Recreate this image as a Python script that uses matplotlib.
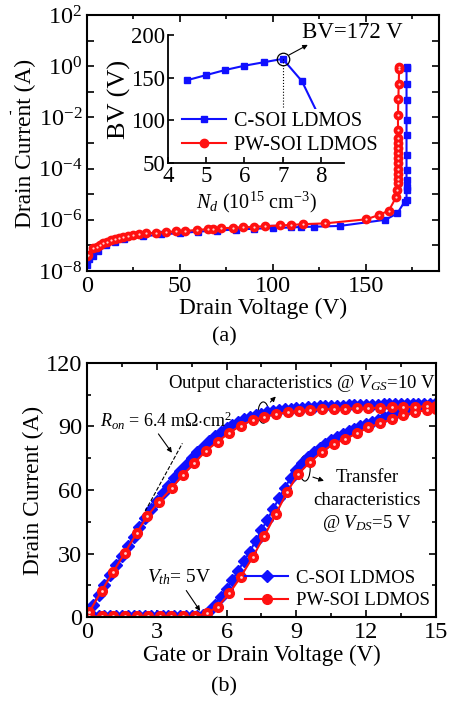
import numpy as np
import matplotlib
matplotlib.use("Agg")
import matplotlib.pyplot as plt
from matplotlib.patches import Ellipse
from matplotlib.ticker import FixedLocator, MultipleLocator, FuncFormatter

# ==========================================
# FONTS
# ==========================================

plt.rcParams["font.family"] = ["Liberation Serif", "DejaVu Serif"]
plt.rcParams["mathtext.fontset"] = "custom"
plt.rcParams["mathtext.rm"] = "Liberation Serif"
plt.rcParams["mathtext.it"] = "Liberation Serif:italic"
plt.rcParams["xtick.direction"] = "in"
plt.rcParams["ytick.direction"] = "in"

# ==========================================
# DATA (a) BREAKDOWN, log10 of current
# ==========================================

c_vd = [0, 1, 3, 6, 10, 15, 20, 30, 40, 50, 60, 70, 80, 90, 100, 110, 115, 122,
        136, 160.6, 167, 171, 172, 172, 172, 172, 172, 172, 172, 172, 172, 172, 172, 172]
c_logid = [-7.75, -7.55, -7.4, -7.2, -7.0, -6.85, -6.75, -6.65, -6.57, -6.52, -6.46,
           -6.42, -6.38, -6.35, -6.32, -6.3, -6.28, -6.27, -6.24, -6.0, -5.75, -5.29,
           -5.23, -4.84, -4.7, -4.45, -4.05, -3.47, -2.69, -2.1, -1.32, -0.71, -0.08, -0.05]

pw_vd = [0, 0.7, 3.4, 5.2, 7, 8.8, 10.6, 12.7, 15, 17.3, 19.5, 22.2, 24.9, 28, 32,
         37, 42.5, 48, 52.7, 59, 65, 68, 72, 78.7, 84, 90, 96, 104, 110, 116.3, 128,
         150.4, 157.2, 162.5, 166.5, 167, 167.4, 167.4, 167.4, 167.4, 167.4, 167.4,
         167.4, 167.4, 167.4, 167.4, 167.4, 167.4, 167.6, 167.8, 168, 168]
pw_logid = [-7.4, -7.37, -7.11, -7.05, -6.98, -6.92, -6.86, -6.79, -6.75, -6.7, -6.66,
            -6.62, -6.58, -6.55, -6.53, -6.5, -6.48, -6.45, -6.43, -6.4, -6.36, -6.35,
            -6.33, -6.31, -6.29, -6.27, -6.25, -6.22, -6.2, -6.17, -6.14, -5.98, -5.81,
            -5.64, -5.1, -4.84, -4.55, -4.4, -4.2, -4.0, -3.8, -3.6, -3.4, -3.2, -3.0,
            -2.8, -2.5, -1.9, -1.3, -0.7, -0.1, -0.05]

# inset: BV vs drift doping
nd = [4.5, 5.0, 5.5, 6.0, 6.5, 7.0, 7.5, 8.0]
bv = [147, 153, 159, 164, 168, 172, 146, 100]

# ==========================================
# DATA (b) OUTPUT / TRANSFER
# ==========================================

c_v = np.arange(0, 15.01, 0.25)
c_out = [1, 6, 10.5, 15, 20, 24.5, 29, 33.5, 38, 42.5, 47, 51, 55, 58.5, 62, 65.5,
         69, 72, 75, 78, 80.5, 83, 85.3, 87.3, 89.2, 90.8, 92.2, 93.4, 94.4, 95.3,
         96, 96.7, 97.2, 97.6, 98, 98.3, 98.6, 98.8, 99, 99.2, 99.4, 99.5, 99.6, 99.7,
         99.8, 99.9, 100, 100.05, 100.1, 100.2, 100.25, 100.3, 100.35, 100.4, 100.45,
         100.5, 100.55, 100.6, 100.65, 100.7, 100.8]
c_tr = [0.4, 0.4, 0.4, 0.4, 0.4, 0.4, 0.4, 0.4, 0.4, 0.4, 0.4, 0.4, 0.4, 0.4, 0.4,
        0.4, 0.4, 0.4, 0.4, 0.5, 1, 3, 6, 9.5, 13.5, 17.5, 22, 26.5, 31, 36, 41, 46,
        51, 56, 61, 65.5, 69.5, 72.5, 75.5, 78, 80, 81.8, 83.5, 85, 86.3, 87.6, 88.8,
        90, 91.1, 92.2, 93.2, 94.2, 95.1, 96, 96.8, 97.6, 98.3, 99, 99.6, 100.1, 100.5]

pw_v_out = [0.1, 0.63, 1.13, 1.63, 2.13, 2.6, 3.1, 3.64, 4.11, 4.61, 5.11, 5.62, 6.12,
            6.6, 7.12, 7.63, 8.12, 8.62, 9.12, 9.6, 10.1, 10.6, 11.1, 11.6, 12.1, 12.6,
            13.1, 13.6, 14.1, 14.6, 15.0]
pw_out = [2.6, 12.5, 21.5, 30.4, 39.6, 47.9, 54.5, 60.8, 67, 72.6, 78.4, 82.8, 87,
          90.3, 93, 94.5, 95.8, 96.6, 97.2, 97.7, 98, 98.2, 98.3, 98.5, 98.6, 98.7,
          98.9, 99.0, 99.2, 99.4, 99.5]
pw_v_tr = [0.1, 0.63, 1.13, 1.63, 2.13, 2.63, 3.13, 3.63, 4.13, 4.63, 5.14, 5.62,
           6.12, 6.6, 7.12, 7.62, 8.12, 8.6, 9.08, 9.6, 10.1, 10.6, 11.1, 11.6, 12.1,
           12.6, 13.1, 13.6, 14.1, 14.6, 15.0]
pw_tr = [0.5, 0.4, 0.4, 0.4, 0.4, 0.4, 0.4, 0.4, 0.4, 0.4, 1.9, 5, 11.3, 18.9, 28.3,
         38.3, 48.7, 59, 67.5, 73.3, 78, 81.7, 84, 86.7, 89.5, 91.4, 93.4, 95.3, 96.6,
         97.7, 98.3]

BLUE = "#1010ff"
RED = "#ff1010"
SHINE = "#ffd0d0"

fig = plt.figure(figsize=(4.49, 7.01), dpi=100)

# ==========================================
# PANEL (a)
# ==========================================

ax1 = fig.add_axes([0.1938, 0.6134, 0.784, 0.3652])
ax1.plot(c_vd, 10.0 ** np.array(c_logid), color=BLUE, lw=1.5, marker="s", ms=5,
         label="C-SOI LDMOS")
ax1.plot(pw_vd, 10.0 ** np.array(pw_logid), color=RED, lw=1.5, marker="o", ms=6,
         mec=RED, label="PW-SOI LDMOS")
ax1.plot(pw_vd, 10.0 ** np.array(pw_logid), ls="none", marker="o", ms=1.6,
         color=SHINE, mec="none")
ax1.set_yscale("log")
ax1.set_xlim(0, 189.5)
ax1.set_ylim(1e-8, 1e2)
ax1.yaxis.set_major_locator(FixedLocator([10.0 ** k for k in range(-8, 3)]))
ax1.yaxis.set_minor_locator(FixedLocator([]))
ax1.yaxis.set_major_formatter(FuncFormatter(
    lambda v, p: "$10^{%d}$" % round(np.log10(v)) if round(np.log10(v)) % 2 == 0 else ""))
ax1.xaxis.set_major_locator(MultipleLocator(50))
ax1.xaxis.set_minor_locator(MultipleLocator(25))
ax1.tick_params(which="both", top=True, right=True, labelsize=17.5, width=1.2)
ax1.tick_params(which="major", length=5)
ax1.tick_params(which="minor", length=3)
for s in ax1.spines.values():
    s.set_linewidth(1.5)
ax1.set_xlabel("Drain Voltage (V)", fontsize=16.8, labelpad=1)
ax1.set_ylabel("Drain Current (A)", fontsize=16.8, labelpad=1)
fig.text(0.5, 0.519, "(a)", ha="center", va="center", fontsize=16)
fig.text(0.022, 0.832, "'", ha="center", va="center", fontsize=12)

# inset
ax2 = fig.add_axes([0.374, 0.7675, 0.392, 0.1826])
ax2.plot(nd, bv, color=BLUE, lw=1.5, marker="s", ms=5, label="C-SOI LDMOS")
ax2.plot([], [], color=RED, lw=1.5, marker="o", ms=6, label="PW-SOI LDMOS")
ax2.plot([nd[5], nd[5]], [50, bv[5]], color="black", ls=":", lw=0.8)
ax2.plot([nd[5]], [bv[5]], ls="none", marker="o", ms=9, mfc="none", mec="black",
         mew=0.9)
ax2.annotate("", xy=(7.72, 190), xytext=(7.1, 175),
             arrowprops=dict(arrowstyle="-|>", color="black", lw=0.8,
                             mutation_scale=7), annotation_clip=False)
ax2.text(7.5, 203, "BV=172 V", fontsize=16.5, ha="left", va="center", clip_on=False)
ax2.set_xlim(4, 8.6)
ax2.set_ylim(50, 200)
ax2.xaxis.set_major_locator(MultipleLocator(1))
ax2.yaxis.set_major_locator(MultipleLocator(50))
ax2.spines["top"].set_visible(False)
ax2.spines["right"].set_visible(False)
ax2.spines["left"].set_linewidth(1.3)
ax2.spines["bottom"].set_linewidth(1.3)
ax2.tick_params(labelsize=16.5, length=4, width=1.2, pad=2)
ax2.set_facecolor("none")
ax2.set_xlabel("$N_d$ (10$^{15}$ cm$^{-3}$)", fontsize=14.5, labelpad=2)
ax2.set_ylabel("BV (V)", fontsize=19, labelpad=0)
ax2.legend(loc="lower left", bbox_to_anchor=(0.01, -0.03), fontsize=14.5,
           frameon=True, facecolor="white", edgecolor="none", framealpha=1,
           handlelength=2.2, handletextpad=0.4, borderpad=0.1, labelspacing=0.25)

# ==========================================
# PANEL (b)
# ==========================================

ax3 = fig.add_axes([0.1938, 0.1194, 0.777, 0.3632])
ax3.plot(c_v, c_out, color=BLUE, lw=1.5, marker="D", ms=6, label="C-SOI LDMOS")
ax3.plot(c_v, c_tr, color=BLUE, lw=1.5, marker="D", ms=6)
ax3.plot(pw_v_out, pw_out, color=RED, lw=1.5, marker="o", ms=7, label="PW-SOI LDMOS")
ax3.plot(pw_v_tr, pw_tr, color=RED, lw=1.5, marker="o", ms=7)
ax3.plot(pw_v_out, pw_out, ls="none", marker="o", ms=2, color=SHINE, mec="none")
ax3.plot(pw_v_tr, pw_tr, ls="none", marker="o", ms=2, color=SHINE, mec="none")
ax3.set_xlim(0, 15)
ax3.set_ylim(0, 120)
ax3.xaxis.set_major_locator(MultipleLocator(3))
ax3.xaxis.set_minor_locator(MultipleLocator(1.5))
ax3.yaxis.set_major_locator(MultipleLocator(30))
ax3.yaxis.set_minor_locator(MultipleLocator(15))
ax3.tick_params(which="both", top=True, right=True, labelsize=17.5, width=1.2)
ax3.tick_params(which="major", length=5)
ax3.tick_params(which="minor", length=3)
for s in ax3.spines.values():
    s.set_linewidth(1.5)
ax3.set_xlabel("Gate or Drain Voltage (V)", fontsize=16.5, labelpad=1)
ax3.set_ylabel("Drain Current (A)", fontsize=16.8, labelpad=1)
fig.text(0.5, 0.02, "(b)", ha="center", va="center", fontsize=16)

# R_on tangent line
ax3.plot([2.5, 4.1], [50, 82], color="black", ls="--", lw=0.8)
ax3.text(0.55, 92.5, "$R_{on}$ = 6.4 m$\\Omega$$\\cdot$cm$^2$", fontsize=13,
         ha="left", va="center")
ax3.annotate("", xy=(3.72, 76.5), xytext=(3.0, 87.5),
             arrowprops=dict(arrowstyle="-|>", color="black", lw=0.8, mutation_scale=7))

# output characteristics
ax3.add_patch(Ellipse((7.58, 96.5), 0.45, 10, fill=False, color="black", lw=0.8))
ax3.annotate("", xy=(8.2, 105), xytext=(7.8, 100.5),
             arrowprops=dict(arrowstyle="-|>", color="black", lw=0.8, mutation_scale=7))
ax3.text(3.5, 110.4, "Output characteristics @ $V_{GS}$=10 V", fontsize=13.5,
         ha="left", va="center")

# transfer characteristics
ax3.add_patch(Ellipse((9.37, 70.2), 0.45, 12, fill=False, color="black", lw=0.8))
ax3.annotate("", xy=(10.3, 63.9), xytext=(9.6, 66.5),
             arrowprops=dict(arrowstyle="-|>", color="black", lw=0.8, mutation_scale=7))
ax3.text(12.05, 66, "Transfer", fontsize=13.5, ha="center", va="center")
ax3.text(12.05, 55, "characteristics", fontsize=13.5, ha="center", va="center")
ax3.text(12.05, 44.3, "@ $V_{DS}$=5 V", fontsize=13.5, ha="center", va="center")

# threshold
ax3.text(2.6, 18.8, "$V_{th}$= 5V", fontsize=14, ha="left", va="center")
ax3.annotate("", xy=(4.93, 1.9), xytext=(4.2, 13.7),
             arrowprops=dict(arrowstyle="-|>", color="black", lw=0.8, mutation_scale=7))

ax3.legend(loc="lower right", bbox_to_anchor=(1.02, -0.02), fontsize=13.5,
           frameon=False, handlelength=2.3, handletextpad=0.4, borderpad=0.2,
           labelspacing=0.3)

plt.savefig("out.png", dpi=100)
